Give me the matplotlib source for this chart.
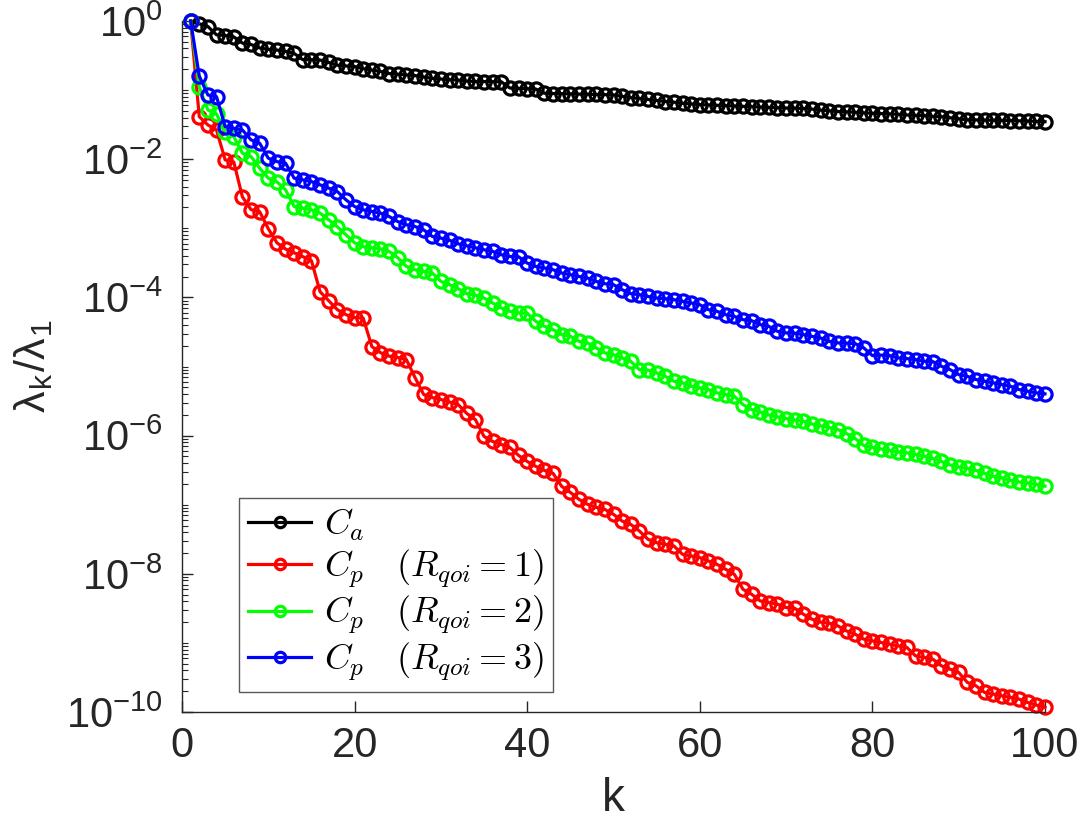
import numpy as np
import matplotlib
matplotlib.use("Agg")
import matplotlib.pyplot as plt
from matplotlib.ticker import FixedLocator, LogLocator, LogFormatterSciNotation, NullFormatter

plt.rcParams['font.family'] = ['Liberation Sans', 'DejaVu Sans']
plt.rcParams['axes.unicode_minus'] = False
plt.rcParams['mathtext.fontset'] = 'cm'

k = np.arange(1, 101)

# log10(lambda_k / lambda_1)
log_ca = [0.0, -0.04, -0.08, -0.20, -0.21, -0.23, -0.32, -0.34, -0.39, -0.41,
          -0.42, -0.44, -0.47, -0.56, -0.56, -0.565, -0.60, -0.64, -0.65, -0.66,
          -0.69, -0.71, -0.73, -0.76, -0.77, -0.78, -0.79, -0.81, -0.83, -0.84,
          -0.85, -0.855, -0.87, -0.875, -0.877, -0.878, -0.88, -0.97, -0.975, -0.98,
          -0.985, -1.045, -1.05, -1.052, -1.055, -1.058, -1.06, -1.063, -1.066, -1.07,
          -1.09, -1.11, -1.12, -1.135, -1.15, -1.165, -1.175, -1.19, -1.20, -1.21,
          -1.215, -1.22, -1.225, -1.23, -1.235, -1.24, -1.245, -1.25, -1.255, -1.26,
          -1.262, -1.265, -1.275, -1.29, -1.30, -1.31, -1.315, -1.32, -1.33, -1.335,
          -1.34, -1.345, -1.35, -1.36, -1.365, -1.37, -1.38, -1.385, -1.40, -1.415,
          -1.43, -1.432, -1.434, -1.436, -1.438, -1.44, -1.445, -1.448, -1.452, -1.457]

log_r1 = [0.0, -1.384, -1.504, -1.577, -2.01, -2.04, -2.545, -2.73, -2.76, -3.007,
          -3.21, -3.30, -3.355, -3.41, -3.47, -3.918, -4.048, -4.178, -4.25, -4.293,
          -4.30, -4.712, -4.80, -4.85, -4.87, -4.90, -5.16, -5.405, -5.45, -5.478,
          -5.514, -5.55, -5.68, -5.77, -6.013, -6.085, -6.129, -6.172, -6.287, -6.374,
          -6.446, -6.504, -6.547, -6.735, -6.822, -6.923, -6.995, -7.039, -7.068, -7.14,
          -7.237, -7.285, -7.381, -7.501, -7.55, -7.574, -7.598, -7.718, -7.743, -7.766,
          -7.815, -7.863, -7.935, -8.007, -8.224, -8.296, -8.393, -8.416, -8.44, -8.488,
          -8.50, -8.585, -8.657, -8.70, -8.715, -8.754, -8.827, -8.874, -8.946, -8.971,
          -8.994, -9.019, -9.043, -9.066, -9.188, -9.211, -9.236, -9.332, -9.38, -9.428,
          -9.572, -9.621, -9.717, -9.741, -9.766, -9.789, -9.814, -9.862, -9.90, -9.933]

log_r2 = [0.0, -0.955, -1.288, -1.345, -1.601, -1.673, -1.913, -1.962, -2.13, -2.275,
          -2.328, -2.444, -2.685, -2.708, -2.733, -2.78, -2.877, -2.978, -3.094, -3.21,
          -3.267, -3.282, -3.296, -3.335, -3.426, -3.552, -3.60, -3.624, -3.647, -3.769,
          -3.816, -3.874, -3.946, -3.968, -4.009, -4.081, -4.153, -4.202, -4.225, -4.228,
          -4.347, -4.419, -4.467, -4.539, -4.562, -4.636, -4.659, -4.731, -4.803, -4.828,
          -4.876, -4.925, -5.045, -5.052, -5.092, -5.142, -5.214, -5.237, -5.286, -5.309,
          -5.334, -5.382, -5.406, -5.431, -5.551, -5.623, -5.659, -5.702, -5.731, -5.753,
          -5.775, -5.792, -5.832, -5.858, -5.883, -5.912, -5.97, -6.042, -6.143, -6.172,
          -6.194, -6.215, -6.237, -6.249, -6.273, -6.298, -6.331, -6.374, -6.425, -6.454,
          -6.475, -6.504, -6.547, -6.591, -6.613, -6.649, -6.671, -6.685, -6.707, -6.731]

log_r3 = [0.0, -0.796, -1.071, -1.095, -1.529, -1.552, -1.577, -1.721, -1.769, -1.986,
          -2.035, -2.058, -2.275, -2.299, -2.324, -2.371, -2.419, -2.468, -2.588, -2.685,
          -2.733, -2.757, -2.78, -2.829, -2.902, -2.949, -2.974, -3.022, -3.118, -3.142,
          -3.173, -3.224, -3.253, -3.282, -3.311, -3.334, -3.383, -3.408, -3.412, -3.503,
          -3.552, -3.575, -3.60, -3.647, -3.672, -3.697, -3.72, -3.769, -3.802, -3.816,
          -3.889, -3.946, -3.961, -3.986, -4.009, -4.019, -4.033, -4.058, -4.081, -4.106,
          -4.178, -4.202, -4.25, -4.275, -4.322, -4.337, -4.394, -4.419, -4.491, -4.514,
          -4.517, -4.539, -4.564, -4.587, -4.636, -4.659, -4.662, -4.669, -4.731, -4.842,
          -4.835, -4.842, -4.876, -4.886, -4.90, -4.925, -4.929, -4.997, -5.045, -5.117,
          -5.142, -5.189, -5.214, -5.237, -5.262, -5.286, -5.334, -5.358, -5.382, -5.396]

series = [
    (log_ca, 'k', r'$C_a$'),
    (log_r1, (1, 0, 0), r'$C_p\quad(R_{qoi}=1)$'),
    (log_r2, (0, 1, 0), r'$C_p\quad(R_{qoi}=2)$'),
    (log_r3, (0, 0, 1), r'$C_p\quad(R_{qoi}=3)$'),
]

fig = plt.figure(figsize=(10.8, 8.21), dpi=100)
ax = fig.add_axes([182 / 1080, 1 - 712 / 821, (1045 - 182) / 1080, (712 - 21) / 821])

for vals, col, lab in series:
    ax.semilogy(k, 10.0 ** np.array(vals), '-o', color=col, lw=2.3, ms=9.5, mew=2.3,
                mfc='none', label=lab, clip_on=False)

ax.set_xlim(0, 100)
ax.set_ylim(1e-10, 1)
ax.set_xticks([0, 20, 40, 60, 80, 100])
ax.yaxis.set_major_locator(FixedLocator([10.0 ** e for e in range(-10, 1, 2)]))
ax.yaxis.set_major_formatter(LogFormatterSciNotation())
ax.yaxis.set_minor_locator(LogLocator(base=10, subs=np.arange(1, 10), numticks=100))
ax.yaxis.set_minor_formatter(NullFormatter())

for s in ['top', 'right']:
    ax.spines[s].set_visible(False)
for s in ['left', 'bottom']:
    ax.spines[s].set_color('0.15')
    ax.spines[s].set_linewidth(1.0)

ax.tick_params(which='major', direction='in', length=8, width=1.0, color='0.15',
               labelsize=30, labelcolor='0.15')
ax.tick_params(which='minor', direction='in', length=4.5, width=0.8, color='0.15')
ax.tick_params(axis='x', pad=10)
ax.tick_params(axis='y', pad=14)

ax.set_xlabel('k', fontsize=33, color='0.15', labelpad=8)
ax.set_ylabel(r'λ$_\mathregular{k}$/λ$_\mathregular{1}$', fontsize=31, color='0.15',
              labelpad=8)

leg = ax.legend(loc='lower left', bbox_to_anchor=(0.066, 0.029), borderaxespad=0,
                fontsize=26, fancybox=False, framealpha=1, edgecolor='0.35',
                handlelength=1.75, labelspacing=0.12, borderpad=0.25, handletextpad=0.35)
leg.get_frame().set_linewidth(1.0)
for h in leg.legend_handles:
    h.set_markersize(7.5)

fig.savefig('out.png', dpi=100)
